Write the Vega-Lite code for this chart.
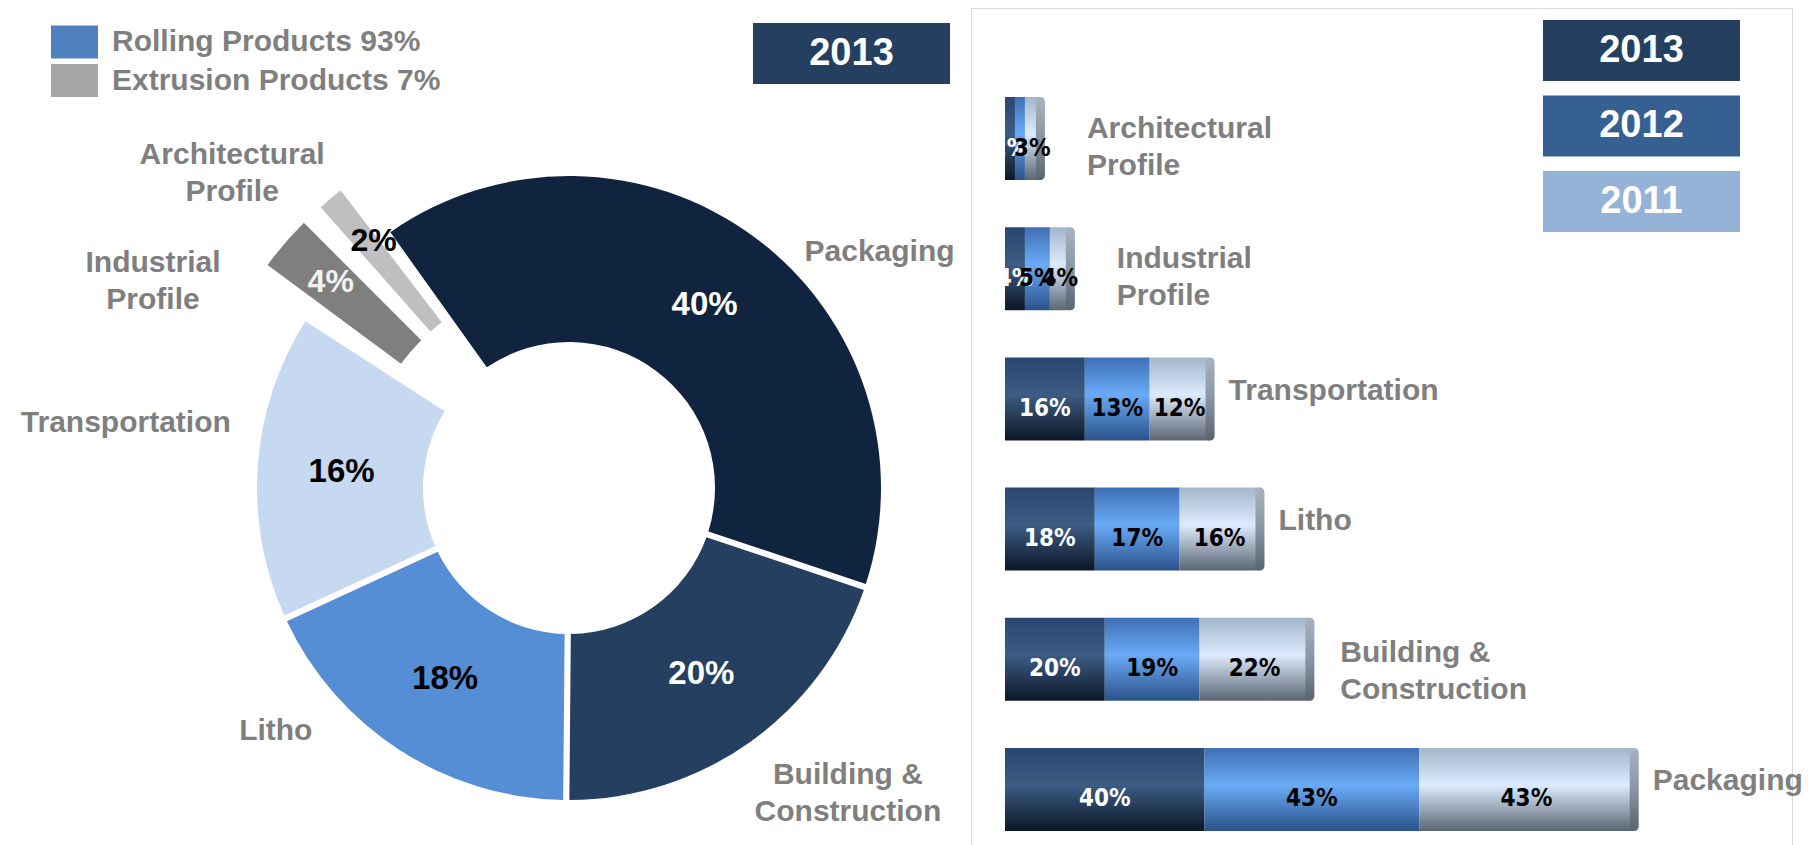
{
  "$schema": "https://vega.github.io/schema/vega-lite/v6.json",
  "padding": {"left": 20, "top": 7, "right": 0, "bottom": 0},
  "autosize": {"type": "pad"},
  "background": "white",
  "config": {"view": {"stroke": null}, "font": "Liberation Sans"},
  "datasets": {
    "segments": [
      {"category": "Packaging", "idx": 1, "group": "Rolling Products 93%", "year": "2013", "value": 0.40},
      {"category": "Packaging", "idx": 1, "group": "Rolling Products 93%", "year": "2012", "value": 0.43},
      {"category": "Packaging", "idx": 1, "group": "Rolling Products 93%", "year": "2011", "value": 0.43},
      {"category": "Building &\nConstruction", "idx": 2, "group": "Rolling Products 93%", "year": "2013", "value": 0.20},
      {"category": "Building &\nConstruction", "idx": 2, "group": "Rolling Products 93%", "year": "2012", "value": 0.19},
      {"category": "Building &\nConstruction", "idx": 2, "group": "Rolling Products 93%", "year": "2011", "value": 0.22},
      {"category": "Litho", "idx": 3, "group": "Rolling Products 93%", "year": "2013", "value": 0.18},
      {"category": "Litho", "idx": 3, "group": "Rolling Products 93%", "year": "2012", "value": 0.17},
      {"category": "Litho", "idx": 3, "group": "Rolling Products 93%", "year": "2011", "value": 0.16},
      {"category": "Transportation", "idx": 4, "group": "Rolling Products 93%", "year": "2013", "value": 0.16},
      {"category": "Transportation", "idx": 4, "group": "Rolling Products 93%", "year": "2012", "value": 0.13},
      {"category": "Transportation", "idx": 4, "group": "Rolling Products 93%", "year": "2011", "value": 0.12},
      {"category": "Industrial\nProfile", "idx": 5, "group": "Extrusion Products 7%", "year": "2013", "value": 0.04},
      {"category": "Industrial\nProfile", "idx": 5, "group": "Extrusion Products 7%", "year": "2012", "value": 0.05},
      {"category": "Industrial\nProfile", "idx": 5, "group": "Extrusion Products 7%", "year": "2011", "value": 0.04},
      {"category": "Architectural\nProfile", "idx": 6, "group": "Extrusion Products 7%", "year": "2013", "value": 0.02},
      {"category": "Architectural\nProfile", "idx": 6, "group": "Extrusion Products 7%", "year": "2012", "value": 0.02},
      {"category": "Architectural\nProfile", "idx": 6, "group": "Extrusion Products 7%", "year": "2011", "value": 0.03}
    ]
  },
  "spacing": 0,
  "bounds": "flush",
  "resolve": {
    "scale": {"fill": "independent", "stroke": "independent", "color": "independent"},
    "legend": {"fill": "independent", "stroke": "independent", "color": "independent"}
  },
  "hconcat": [
    {
      "width": 804,
      "height": 960,
      "view": {"stroke": null},
      "data": {"name": "segments"},
      "transform": [{"filter": "datum.year == '2013'"}],
      "layer": [
        {
          "transform": [
            {"stack": "value", "groupby": [], "sort": [{"field": "idx", "order": "ascending"}], "as": ["t0", "t1"]},
            {"filter": "datum.idx <= 4"}
          ],
          "mark": {"type": "arc", "innerRadius": 146, "outerRadius": 312, "padAngle": 0.018},
          "encoding": {
            "theta": {"field": "t0", "type": "quantitative", "scale": {"domain": [0, 1], "range": [-0.6196, 5.6636]}},
            "theta2": {"field": "t1"},
            "color": {"field": "category", "type": "nominal", "legend": null,
              "scale": {"domain": ["Packaging", "Building &\nConstruction", "Litho", "Transportation", "Industrial\nProfile", "Architectural\nProfile"],
                        "range": ["#10243F", "#253F60", "#558ED5", "#C6D9F1", "#7F7F7F", "#BFBFBF"]}}
          }
        },
        {
          "transform": [
            {"stack": "value", "groupby": [], "sort": [{"field": "idx", "order": "ascending"}], "as": ["t0", "t1"]},
            {"filter": "datum.idx == 5"}
          ],
          "mark": {"type": "arc", "innerRadius": 209, "outerRadius": 375, "thetaOffset": 0.063, "theta2Offset": -0.040},
          "encoding": {
            "theta": {"field": "t0", "type": "quantitative", "scale": {"domain": [0, 1], "range": [-0.6196, 5.6636]}},
            "theta2": {"field": "t1"},
            "color": {"field": "category", "type": "nominal", "legend": null,
              "scale": {"domain": ["Packaging", "Building &\nConstruction", "Litho", "Transportation", "Industrial\nProfile", "Architectural\nProfile"],
                        "range": ["#10243F", "#253F60", "#558ED5", "#C6D9F1", "#7F7F7F", "#BFBFBF"]}}
          }
        },
        {
          "transform": [
            {"stack": "value", "groupby": [], "sort": [{"field": "idx", "order": "ascending"}], "as": ["t0", "t1"]},
            {"filter": "datum.idx == 6"}
          ],
          "mark": {"type": "arc", "innerRadius": 209, "outerRadius": 375, "thetaOffset": 0.021, "theta2Offset": -0.035},
          "encoding": {
            "theta": {"field": "t0", "type": "quantitative", "scale": {"domain": [0, 1], "range": [-0.6196, 5.6636]}},
            "theta2": {"field": "t1"},
            "color": {"field": "category", "type": "nominal", "legend": null,
              "scale": {"domain": ["Packaging", "Building &\nConstruction", "Litho", "Transportation", "Industrial\nProfile", "Architectural\nProfile"],
                        "range": ["#10243F", "#253F60", "#558ED5", "#C6D9F1", "#7F7F7F", "#BFBFBF"]}}
          }
        },
        {
          "mark": {"type": "text", "radius": 228, "align": "center", "baseline": "middle", "fontSize": 33, "fontWeight": "bold"},
          "encoding": {
            "theta": {"field": "value", "type": "quantitative", "stack": true, "scale": {"domain": [0, 1], "range": [-0.6196, 5.6636]}},
            "order": {"field": "idx", "type": "quantitative"},
            "detail": {"field": "category", "type": "nominal"},
            "text": {"condition": {"test": "datum.idx <= 4", "field": "value", "type": "quantitative", "format": ".0%"}, "value": ""},
            "color": {"condition": {"test": "datum.idx <= 2", "value": "white"}, "value": "black"}
          }
        },
        {
          "mark": {"type": "text", "radius": 315, "thetaOffset": 0.013, "align": "center", "baseline": "middle", "fontSize": 32, "fontWeight": "bold"},
          "encoding": {
            "theta": {"field": "value", "type": "quantitative", "stack": true, "scale": {"domain": [0, 1], "range": [-0.6196, 5.6636]}},
            "order": {"field": "idx", "type": "quantitative"},
            "detail": {"field": "category", "type": "nominal"},
            "text": {"condition": {"test": "datum.idx >= 5", "field": "value", "type": "quantitative", "format": ".0%"}, "value": ""},
            "color": {"condition": {"test": "datum.idx == 5", "value": "#F2F2F2"}, "value": "black"}
          }
        },
        {
          "mark": {"type": "text", "radius": 390, "thetaOffset": 0.284, "align": "center", "baseline": "middle", "fontSize": 30, "fontWeight": "bold", "color": "#7F7F7F", "lineBreak": "\n", "lineHeight": 37},
          "encoding": {
            "theta": {"field": "value", "type": "quantitative", "stack": true, "scale": {"domain": [0, 1], "range": [-0.6196, 5.6636]}},
            "order": {"field": "idx", "type": "quantitative"},
            "detail": {"field": "category", "type": "nominal"},
            "text": {"condition": {"test": "datum.idx == 1", "field": "category", "type": "nominal"}, "value": ""}
          }
        },
        {
          "mark": {"type": "text", "radius": 400, "thetaOffset": -0.152, "align": "center", "baseline": "middle", "fontSize": 30, "fontWeight": "bold", "color": "#7F7F7F", "lineBreak": "\n", "lineHeight": 37},
          "encoding": {
            "theta": {"field": "value", "type": "quantitative", "stack": true, "scale": {"domain": [0, 1], "range": [-0.6196, 5.6636]}},
            "order": {"field": "idx", "type": "quantitative"},
            "detail": {"field": "category", "type": "nominal"},
            "text": {"condition": {"test": "datum.idx == 2", "field": "category", "type": "nominal"}, "value": ""}
          }
        },
        {
          "mark": {"type": "text", "radius": 381, "thetaOffset": 0.304, "align": "center", "baseline": "middle", "fontSize": 30, "fontWeight": "bold", "color": "#7F7F7F", "lineBreak": "\n", "lineHeight": 37},
          "encoding": {
            "theta": {"field": "value", "type": "quantitative", "stack": true, "scale": {"domain": [0, 1], "range": [-0.6196, 5.6636]}},
            "order": {"field": "idx", "type": "quantitative"},
            "detail": {"field": "category", "type": "nominal"},
            "text": {"condition": {"test": "datum.idx == 3", "field": "category", "type": "nominal"}, "value": ""}
          }
        },
        {
          "mark": {"type": "text", "radius": 448, "thetaOffset": 0.075, "align": "center", "baseline": "middle", "fontSize": 30, "fontWeight": "bold", "color": "#7F7F7F", "lineBreak": "\n", "lineHeight": 37},
          "encoding": {
            "theta": {"field": "value", "type": "quantitative", "stack": true, "scale": {"domain": [0, 1], "range": [-0.6196, 5.6636]}},
            "order": {"field": "idx", "type": "quantitative"},
            "detail": {"field": "category", "type": "nominal"},
            "text": {"condition": {"test": "datum.idx == 4", "field": "category", "type": "nominal"}, "value": ""}
          }
        },
        {
          "mark": {"type": "text", "radius": 473, "thetaOffset": -0.204, "align": "center", "baseline": "middle", "fontSize": 30, "fontWeight": "bold", "color": "#7F7F7F", "lineBreak": "\n", "lineHeight": 37},
          "encoding": {
            "theta": {"field": "value", "type": "quantitative", "stack": true, "scale": {"domain": [0, 1], "range": [-0.6196, 5.6636]}},
            "order": {"field": "idx", "type": "quantitative"},
            "detail": {"field": "category", "type": "nominal"},
            "text": {"condition": {"test": "datum.idx == 5", "field": "category", "type": "nominal"}, "value": ""}
          }
        },
        {
          "mark": {"type": "text", "radius": 474, "thetaOffset": -0.108, "align": "center", "baseline": "middle", "fontSize": 30, "fontWeight": "bold", "color": "#7F7F7F", "lineBreak": "\n", "lineHeight": 37},
          "encoding": {
            "theta": {"field": "value", "type": "quantitative", "stack": true, "scale": {"domain": [0, 1], "range": [-0.6196, 5.6636]}},
            "order": {"field": "idx", "type": "quantitative"},
            "detail": {"field": "category", "type": "nominal"},
            "text": {"condition": {"test": "datum.idx == 6", "field": "category", "type": "nominal"}, "value": ""}
          }
        },
        {
          "transform": [{"filter": "false"}],
          "mark": {"type": "arc"},
          "encoding": {
            "fill": {"field": "group", "type": "nominal",
              "scale": {"domain": ["Rolling Products 93%", "Extrusion Products 7%"], "range": ["#4F81BD", "#A6A6A6"]},
              "legend": {"orient": "none", "legendX": -109, "legendY": 17.5, "title": null, "padding": 0,
                "symbolType": "M-1.424,-1H1.424V1H-1.424Z", "symbolSize": 1089, "symbolStrokeWidth": 0, "symbolOpacity": 1,
                "rowPadding": 5.5, "labelAlign": "left", "labelOffset": 21, "labelFont": "Liberation Sans", "labelFontSize": 30, "labelFontWeight": "bold",
                "labelColor": "#7F7F7F", "labelLimit": 0}}
          }
        },
        {
          "transform": [{"filter": "false"}],
          "mark": {"type": "arc", "fill": "#243F60"},
          "encoding": {
            "stroke": {"field": "year", "type": "nominal",
              "scale": {"domain": ["2013"], "range": ["#243F60"]},
              "legend": {"orient": "none", "legendX": 654, "legendY": 15, "title": null, "padding": 0,
                "symbolType": "M-3.23,-1H3.23V1H-3.23Z", "symbolSize": 3721, "symbolStrokeWidth": 0, "symbolFillColor": "#243F60", "symbolOpacity": 1,
                "labelAlign": "center", "labelOffset": -30.5, "labelFont": "Liberation Sans", "labelFontSize": 38, "labelFontWeight": "bold",
                "labelColor": "white", "labelLimit": 0}}
          }
        }
      ]
    },
    {
      "width": 821,
      "height": 912,
      "view": {"stroke": "#D9D9D9", "fill": "white", "strokeWidth": 1},
      "data": {"name": "segments"},
      "encoding": {
        "y": {"field": "category", "type": "nominal", "axis": null,
          "scale": {"domain": ["Architectural\nProfile", "Industrial\nProfile", "Transportation", "Litho", "Building &\nConstruction", "Packaging"],
                    "paddingInner": 0.3625, "paddingOuter": 0.6836}}
      },
      "layer": [
        {
          "transform": [
            {"stack": "value", "groupby": ["category"], "sort": [{"field": "year", "order": "descending"}], "as": ["v0", "v1"]},
            {"filter": "datum.year == '2013'"}
          ],
          "mark": {"type": "bar", "fill": {"gradient": "linear", "x1": 0, "y1": 0, "x2": 0, "y2": 1,
            "stops": [{"offset": 0, "color": "#294770"}, {"offset": 0.45, "color": "#3C5C84"}, {"offset": 1, "color": "#0C1727"}]}},
          "encoding": {
            "x": {"field": "v0", "type": "quantitative", "axis": null, "scale": {"domain": [-0.0681, 1.5772], "nice": false, "zero": false}},
            "x2": {"field": "v1"}
          }
        },
        {
          "transform": [
            {"stack": "value", "groupby": ["category"], "sort": [{"field": "year", "order": "descending"}], "as": ["v0", "v1"]},
            {"filter": "datum.year == '2012'"}
          ],
          "mark": {"type": "bar", "fill": {"gradient": "linear", "x1": 0, "y1": 0, "x2": 0, "y2": 1,
            "stops": [{"offset": 0, "color": "#3E70B5"}, {"offset": 0.45, "color": "#6AAAF6"}, {"offset": 1, "color": "#2A528A"}]}},
          "encoding": {
            "x": {"field": "v0", "type": "quantitative", "axis": null, "scale": {"domain": [-0.0681, 1.5772], "nice": false, "zero": false}},
            "x2": {"field": "v1"}
          }
        },
        {
          "transform": [
            {"stack": "value", "groupby": ["category"], "sort": [{"field": "year", "order": "descending"}], "as": ["v0", "v1"]},
            {"filter": "datum.year == '2011'"}
          ],
          "mark": {"type": "bar", "fill": {"gradient": "linear", "x1": 0, "y1": 0, "x2": 0, "y2": 1,
            "stops": [{"offset": 0, "color": "#A3B6CB"}, {"offset": 0.45, "color": "#DCEBFD"}, {"offset": 1, "color": "#5B6572"}]}},
          "encoding": {
            "x": {"field": "v0", "type": "quantitative", "axis": null, "scale": {"domain": [-0.0681, 1.5772], "nice": false, "zero": false}},
            "x2": {"field": "v1"}
          }
        },
        {
          "transform": [
            {"stack": "value", "groupby": ["category"], "sort": [{"field": "year", "order": "descending"}], "as": ["v0", "v1"]},
            {"filter": "datum.year == '2011'"}
          ],
          "mark": {"type": "bar", "xOffset": -4, "x2Offset": 5, "cornerRadius": 4.5, "fill": {"gradient": "linear", "x1": 0, "y1": 0, "x2": 0, "y2": 1,
            "stops": [{"offset": 0, "color": "#A7B3C0"}, {"offset": 0.5, "color": "#8895A3"}, {"offset": 1, "color": "#5A636E"}]}},
          "encoding": {
            "x": {"field": "v1", "type": "quantitative", "axis": null, "scale": {"domain": [-0.0681, 1.5772], "nice": false, "zero": false}},
            "x2": {"field": "v1"}
          }
        },
        {
          "mark": {"type": "text", "font": "Liberation Sans Narrow, DejaVu Sans Condensed, Liberation Sans", "fontSize": 24, "fontWeight": "bold", "dy": 10, "align": "center", "baseline": "middle"},
          "encoding": {
            "x": {"field": "value", "type": "quantitative", "stack": "zero", "bandPosition": 0.5, "axis": null, "scale": {"domain": [-0.0681, 1.5772], "nice": false, "zero": false}},
            "detail": {"field": "year", "type": "nominal"},
            "order": {"field": "year", "type": "nominal", "sort": "descending"},
            "text": {"field": "value", "type": "quantitative", "format": ".0%", "condition": {"test": "datum.idx == 6 && datum.year == '2012'", "value": ""}},
            "color": {"condition": {"test": "datum.year == '2013'", "value": "white"}, "value": "black"}
          }
        },
        {
          "transform": [{"filter": "datum.idx == 1 || datum.idx == 3 || datum.idx == 4"}],
          "mark": {"type": "text", "align": "left", "baseline": "middle", "dx": 19, "dy": -8, "fontSize": 30, "fontWeight": "bold", "color": "#7F7F7F", "lineBreak": "\n", "lineHeight": 37},
          "encoding": {
            "x": {"aggregate": "sum", "field": "value", "type": "quantitative", "axis": null, "scale": {"domain": [-0.0681, 1.5772], "nice": false, "zero": false}},
            "text": {"field": "category", "type": "nominal"}
          }
        },
        {
          "transform": [{"filter": "datum.idx == 2"}],
          "mark": {"type": "text", "align": "left", "baseline": "middle", "dx": 31, "dy": -6, "fontSize": 30, "fontWeight": "bold", "color": "#7F7F7F", "lineBreak": "\n", "lineHeight": 37},
          "encoding": {
            "x": {"aggregate": "sum", "field": "value", "type": "quantitative", "axis": null, "scale": {"domain": [-0.0681, 1.5772], "nice": false, "zero": false}},
            "text": {"field": "category", "type": "nominal"}
          }
        },
        {
          "transform": [{"filter": "datum.idx == 5 || datum.idx == 6"}],
          "mark": {"type": "text", "align": "left", "baseline": "middle", "dx": 47, "dy": -10, "fontSize": 30, "fontWeight": "bold", "color": "#7F7F7F", "lineBreak": "\n", "lineHeight": 37},
          "encoding": {
            "x": {"aggregate": "sum", "field": "value", "type": "quantitative", "axis": null, "scale": {"domain": [-0.0681, 1.5772], "nice": false, "zero": false}},
            "text": {"field": "category", "type": "nominal"}
          }
        },
        {
          "transform": [{"filter": "false"}],
          "mark": {"type": "bar"},
          "encoding": {
            "x": {"field": "value", "type": "quantitative", "axis": null, "scale": {"domain": [-0.0681, 1.5772], "nice": false, "zero": false}},
            "fill": {"field": "year", "type": "nominal",
              "scale": {"domain": ["2013", "2012", "2011"], "range": ["#243F60", "#366092", "#95B3D7"]},
              "legend": {"orient": "none", "legendX": 640, "legendY": 12, "title": null, "padding": 0,
                "symbolType": "M-3.23,-1H3.23V1H-3.23Z", "symbolSize": 3721, "symbolStrokeWidth": 0, "symbolOpacity": 1,
                "rowPadding": 14.5, "labelAlign": "center", "labelOffset": -30.5, "labelFont": "Liberation Sans", "labelFontSize": 38,
                "labelFontWeight": "bold", "labelColor": "white", "labelLimit": 0}}
          }
        }
      ]
    }
  ]
}
